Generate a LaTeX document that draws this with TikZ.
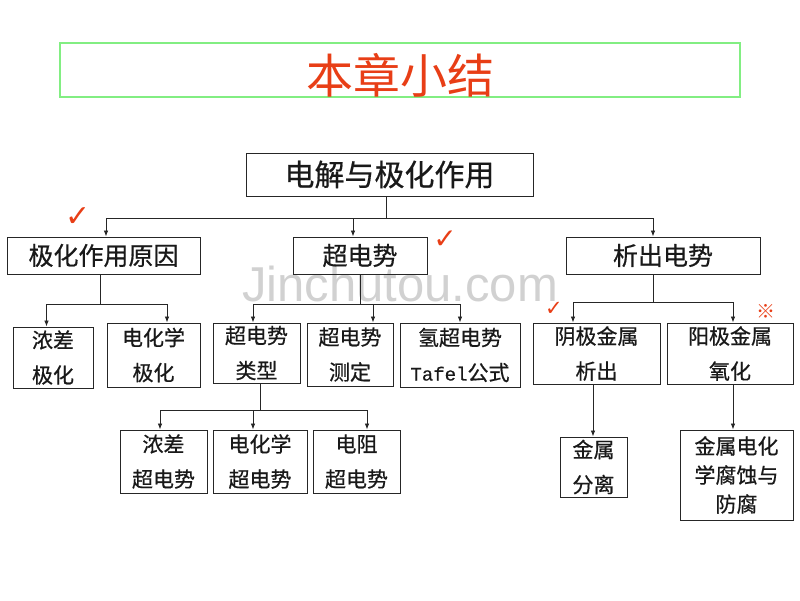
\documentclass[tikz,border=0pt]{standalone}
\usepackage{fontspec}
\usetikzlibrary{arrows.meta}
\newfontfamily\cjk[FakeBold=0.6]{Noto Sans CJK SC}
\newfontfamily\cjkt{Noto Sans CJK SC}
\newfontfamily\dejavu{DejaVu Sans}
\newfontfamily\monof[FakeBold=0.6]{Liberation Mono}
\definecolor{titlered}{RGB}{232,62,22}
\definecolor{titlegreen}{RGB}{130,238,130}
\tikzset{
  box/.style={draw=black!85, line width=0.9pt, rectangle, inner sep=0pt, align=center, text=black!90},
  mainbox/.style={box, font=\cjk\fontsize{30}{36}\selectfont},
  lvtwo/.style={box, font=\cjk\fontsize{25}{30}\selectfont, minimum height=37pt},
  lvthree/.style={box, font=\cjk\fontsize{21}{35}\selectfont},
  conn/.style={draw=black!85, line width=0.8pt},
  arr/.style={conn, -{Latex[length=6pt,width=4.5pt]}},
  redsign/.style={text=titlered, inner sep=0pt}
}
\begin{document}
\begin{tikzpicture}[x=1pt,y=-1pt]
\useasboundingbox (0,0) rectangle (800,600);
% watermark
\node[text=black!18, font=\fontspec{Liberation Sans}\fontsize{49}{55}\selectfont, inner sep=0pt] (wm) at (400,284) {Jinchutou.com};
% title
\node[draw=titlegreen, line width=1.2pt, minimum width=680pt, minimum height=54pt, inner sep=0pt] (titlebox) at (400,70) {};
\node[text=titlered, font=\cjkt\fontsize{47}{50}\selectfont, inner sep=0pt] (title) at (400,75) {本章小结};
% level 1
\node[mainbox, minimum width=287pt, minimum height=43pt] (main) at (389.5,174.5) {电解与极化作用};
% level 2
\node[lvtwo, minimum width=193pt] (b1) at (103.5,255.5) {极化作用原因};
\node[lvtwo, minimum width=134pt] (b2) at (360,255.5) {超电势};
\node[lvtwo, minimum width=194pt] (b3) at (663,255.5) {析出电势};
% level 3
\node[lvthree, minimum width=80pt, minimum height=61pt] (c1) at (53,357.5) {浓差\\极化};
\node[lvthree, minimum width=93pt, minimum height=64pt] (c2) at (153.5,355) {电化学\\极化};
\node[lvthree, minimum width=87pt, minimum height=60pt] (c3) at (256.5,353) {超电势\\类型};
\node[lvthree, minimum width=86pt, minimum height=63pt] (c4) at (350,354.5) {超电势\\测定};
\node[lvthree, minimum width=120pt, minimum height=64pt] (c5) at (460,355) {氢超电势\\{\monof\fontsize{19}{35}\selectfont Tafel}公式};
\node[lvthree, minimum width=127pt, minimum height=61pt] (c6) at (596.5,353.5) {阴极金属\\析出};
\node[lvthree, minimum width=126pt, minimum height=61pt] (c7) at (730,353.5) {阳极金属\\氧化};
% level 4
\node[lvthree, minimum width=87pt, minimum height=63pt] (d1) at (163.5,461.5) {浓差\\超电势};
\node[lvthree, minimum width=94pt, minimum height=63pt] (d2) at (260,461.5) {电化学\\超电势};
\node[lvthree, minimum width=87pt, minimum height=63pt] (d3) at (356.5,461.5) {电阻\\超电势};
\node[lvthree, minimum width=67pt, minimum height=60pt] (d4) at (593.5,467) {金属\\分离};
\node[box, font=\cjk\fontsize{21}{29}\selectfont, minimum width=113pt, minimum height=90pt] (d5) at (736.5,475) {金属电化\\学腐蚀与\\防腐};
% junctions
\coordinate (j1) at (386,218);
\coordinate (j2) at (100,304);
\coordinate (j3) at (360,304);
\coordinate (j4) at (260,410);
\coordinate (j5) at (653,302);
% connectors
\draw[conn] ([xshift=-3.5pt]main.south) -- (j1);
\draw[arr] (j1) -| ([xshift=2.5pt]b1.north);
\draw[arr] (j1) -| ([xshift=-7pt]b2.north);
\draw[arr] (j1) -| ([xshift=-10pt]b3.north);
\draw[conn] ([xshift=-3.5pt]b1.south) -- (j2);
\draw[arr] (j2) -| ([xshift=-6.5pt]c1.north);
\draw[arr] (j2) -| ([xshift=13.5pt]c2.north);
\draw[conn] (b2.south) -- (j3);
\draw[arr] (j3) -| ([xshift=-3.5pt]c3.north);
\draw[arr] (j3) -| ([xshift=23pt]c4.north);
\draw[arr] (j3) -| (c5.north);
\draw[conn] ([xshift=3.5pt]c3.south) -- (j4);
\draw[arr] (j4) -| ([xshift=-3.5pt]d1.north);
\draw[arr] (j4) -| ([xshift=-7pt]d2.north);
\draw[arr] (j4) -| ([xshift=10.5pt]d3.north);
\draw[conn] ([xshift=-10pt]b3.south) -- (j5);
\draw[arr] (j5) -| ([xshift=-23.5pt]c6.north);
\draw[arr] (j5) -| ([xshift=3pt]c7.north);
\draw[arr] ([xshift=-3.5pt]c6.south) -- ([xshift=-0.5pt]d4.north);
\draw[arr] ([xshift=3pt]c7.south) -- ([xshift=-3.5pt]d5.north);
% signs
\node[redsign, font=\dejavu\fontsize{30}{30}\selectfont] (m1) at (78,217) {✓};
\node[redsign, font=\dejavu\fontsize{28}{28}\selectfont] (m2) at (445,240) {✓};
\node[redsign, font=\dejavu\fontsize{21}{21}\selectfont] (m3) at (554,309) {✓};
\node[redsign, font=\cjkt\fontsize{19}{19}\selectfont] (m4) at (766,311) {※};
\end{tikzpicture}
\end{document}
